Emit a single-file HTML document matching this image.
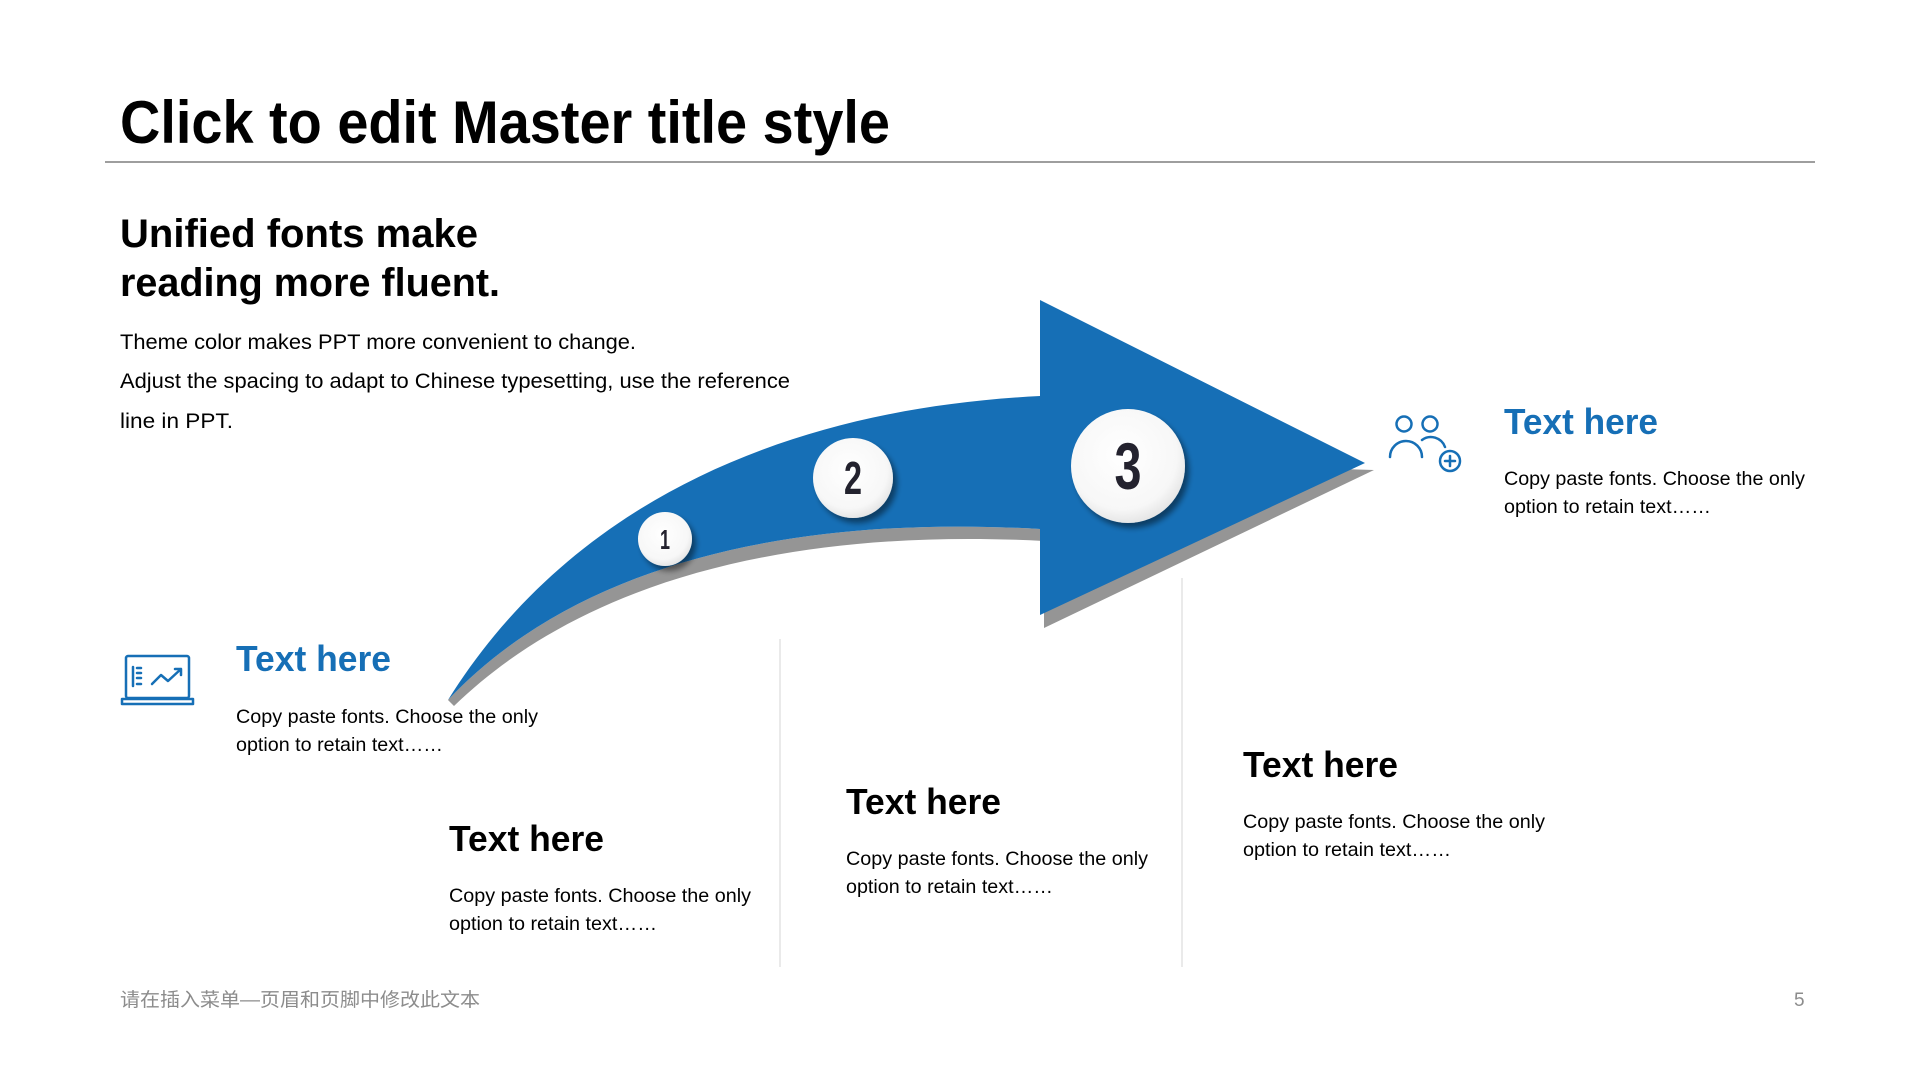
<!DOCTYPE html>
<html><head><meta charset="utf-8"><style>html,body{margin:0;padding:0;background:#fff}svg{display:block}</style></head><body>
<svg width="1920" height="1080" viewBox="0 0 1920 1080" xmlns="http://www.w3.org/2000/svg" font-family="'Liberation Sans', 'Noto Sans CJK SC', sans-serif">
<defs>
<radialGradient id="cg" cx="0.45" cy="0.4" r="0.6"><stop offset="0" stop-color="#ffffff"/><stop offset="0.8" stop-color="#f7f7f7"/><stop offset="1" stop-color="#e6e6e6"/></radialGradient>
<filter id="sh" x="-30%" y="-30%" width="160%" height="160%"><feGaussianBlur in="SourceAlpha" stdDeviation="3"/><feOffset dx="4" dy="5"/><feComponentTransfer><feFuncA type="linear" slope="0.45"/></feComponentTransfer><feMerge><feMergeNode/><feMergeNode in="SourceGraphic"/></feMerge></filter>
</defs>
<text x="120" y="143" font-size="60" font-weight="bold" fill="#000" textLength="770" lengthAdjust="spacingAndGlyphs">Click to edit Master title style</text>
<line x1="105" y1="162" x2="1815" y2="162" stroke="#7f7f7f" stroke-width="1.5"/>
<text x="120" y="247" font-size="40" font-weight="bold" textLength="358" lengthAdjust="spacingAndGlyphs">Unified fonts make</text>
<text x="120" y="296" font-size="40" font-weight="bold" textLength="380" lengthAdjust="spacingAndGlyphs">reading more fluent.</text>
<g font-size="21" fill="#000">
<text x="120" y="349" textLength="516" lengthAdjust="spacingAndGlyphs">Theme color makes PPT more convenient  to change.</text>
<text x="120" y="388" textLength="670" lengthAdjust="spacingAndGlyphs">Adjust the spacing to adapt to Chinese typesetting, use the reference</text>
<text x="120" y="428" textLength="113" lengthAdjust="spacingAndGlyphs">line in PPT.</text>
</g>
<line x1="780" y1="639" x2="780" y2="967" stroke="#e3e3e3" stroke-width="1.5"/>
<line x1="1182" y1="578" x2="1182" y2="967" stroke="#e3e3e3" stroke-width="1.5"/>
<!-- arrow shadow -->
<path d="M454,706 C588,576 800,528 1044,541 L1044,628 L1374,470 L1040,460 L1040,529 C800,515 580,560 448,700 Z" fill="#959595"/>
<!-- arrow -->
<path d="M448,700 C560,520 760,410 1040,396 L1040,300 L1365,463 L1040,615 L1040,529 C800,515 580,560 448,700 Z" fill="#166fb6"/>
<g filter="url(#sh)">
<circle cx="665" cy="539" r="27" fill="url(#cg)"/>
<circle cx="853" cy="478" r="40" fill="url(#cg)"/>
<circle cx="1128" cy="466" r="57" fill="url(#cg)"/>
</g>
<g font-weight="bold" fill="#23222e" text-anchor="middle">
<text x="665" y="549" font-size="28" textLength="10" lengthAdjust="spacingAndGlyphs">1</text>
<text x="853" y="494" font-size="46" textLength="18" lengthAdjust="spacingAndGlyphs">2</text>
<text x="1128" y="489" font-size="66" textLength="27" lengthAdjust="spacingAndGlyphs">3</text>
</g>
<g fill="none" stroke="#166fb6" stroke-width="2.5" stroke-linejoin="round" stroke-linecap="round">
<rect x="126" y="656" width="63" height="42" rx="2"/>
<path d="M122,699 H193 V704 H122 Z"/>
<path d="M133,667 V686 M137,668 H141 M137,673 H141 M137,678 H141 M137,684 H141"/>
<path d="M152,684 L161,675 L168,681 L181,669 M175,669 H181 V675"/>
</g>
<g fill="none" stroke="#166fb6" stroke-width="2.5" stroke-linecap="round">
<circle cx="1404" cy="424" r="7.5"/>
<circle cx="1430" cy="424" r="7.5"/>
<path d="M1390,457 A15,15 0 0 1 1422,457"/>
<path d="M1422,440 A15,15 0 0 1 1445,447"/>
<circle cx="1450" cy="461" r="10"/>
<path d="M1450,456 V466 M1445,461 H1455"/>
</g>
<g font-weight="bold" font-size="36">
<text x="1504" y="434" fill="#166fb6" textLength="154" lengthAdjust="spacingAndGlyphs">Text here</text>
<text x="236" y="671" fill="#166fb6" textLength="155" lengthAdjust="spacingAndGlyphs">Text here</text>
<text x="449" y="851" fill="#000" textLength="155" lengthAdjust="spacingAndGlyphs">Text here</text>
<text x="846" y="814" fill="#000" textLength="155" lengthAdjust="spacingAndGlyphs">Text here</text>
<text x="1243" y="777" fill="#000" textLength="155" lengthAdjust="spacingAndGlyphs">Text here</text>
</g>
<g font-size="19.5" fill="#000">
<text x="1504" y="485" textLength="301" lengthAdjust="spacingAndGlyphs">Copy paste fonts. Choose the only</text>
<text x="1504" y="513" textLength="207" lengthAdjust="spacingAndGlyphs">option to retain text……</text>
<text x="236" y="723" textLength="302" lengthAdjust="spacingAndGlyphs">Copy paste fonts. Choose the only</text>
<text x="236" y="751" textLength="207" lengthAdjust="spacingAndGlyphs">option to retain text……</text>
<text x="449" y="902" textLength="302" lengthAdjust="spacingAndGlyphs">Copy paste fonts. Choose the only</text>
<text x="449" y="930" textLength="208" lengthAdjust="spacingAndGlyphs">option to retain text……</text>
<text x="846" y="865" textLength="302" lengthAdjust="spacingAndGlyphs">Copy paste fonts. Choose the only</text>
<text x="846" y="893" textLength="207" lengthAdjust="spacingAndGlyphs">option to retain text……</text>
<text x="1243" y="828" textLength="302" lengthAdjust="spacingAndGlyphs">Copy paste fonts. Choose the only</text>
<text x="1243" y="856" textLength="208" lengthAdjust="spacingAndGlyphs">option to retain text……</text>
</g>
<text x="120" y="1006" font-size="19" fill="#8c8c8c" textLength="360" lengthAdjust="spacingAndGlyphs">请在插入菜单—页眉和页脚中修改此文本</text>
<text x="1794" y="1006" font-size="19" fill="#8c8c8c">5</text>
</svg>
</body></html>
